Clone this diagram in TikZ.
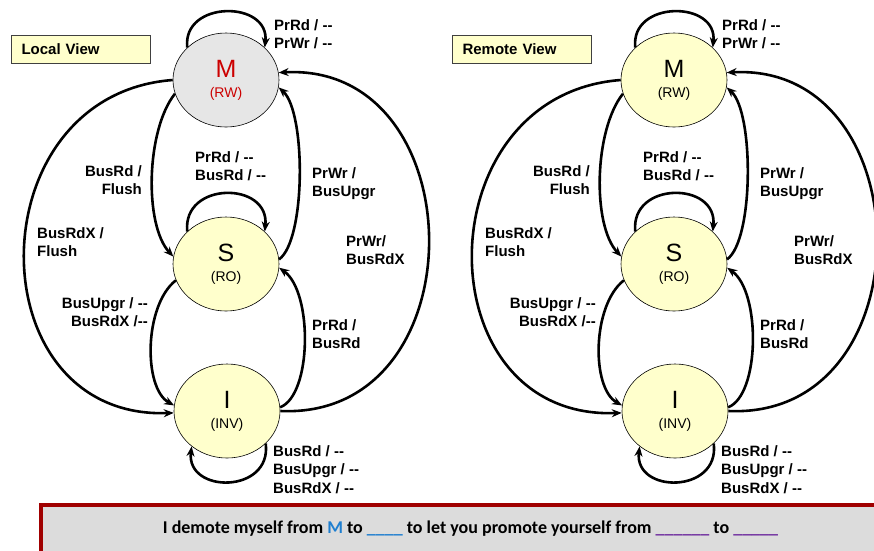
\documentclass[tikz,border=0pt]{standalone}
\usepackage{fontspec}
\setmainfont{Liberation Sans}
\newfontfamily\notefont{Carlito}
\usetikzlibrary{shapes.geometric,arrows.meta}

\definecolor{statefill}{HTML}{FFFFCC}
\definecolor{modfill}{HTML}{E6E6E6}
\definecolor{modred}{HTML}{CC0000}
\definecolor{boxred}{HTML}{A00000}
\definecolor{boxgray}{HTML}{DCDCDC}
\definecolor{hlblue}{HTML}{1F7FD0}
\definecolor{hlpurple}{HTML}{7030A0}

\tikzset{
  state/.style={ellipse, draw=black, line width=0.6pt, minimum width=106pt,
    minimum height=94pt, inner sep=0pt, align=center,
    font=\fontsize{14}{20}\selectfont},
  trans/.style={line width=2.6pt, -{Stealth[length=10pt,width=8pt]}},
  lbl/.style={font=\bfseries\fontsize{15}{18.5}\selectfont, inner sep=0pt,
    align=left, anchor=north west},
  lblr/.style={lbl, align=right, anchor=north east},
  viewtitle/.style={draw=black!75, fill=statefill, line width=0.7pt,
    minimum width=139pt, minimum height=28pt, inner sep=0pt, text width=119pt,
    font=\bfseries\fontsize{15}{18}\selectfont, align=left},
  notebox/.style={draw=boxred, fill=boxgray, line width=3.5pt},
  notetext/.style={font=\notefont\bfseries\fontsize{18}{22}\selectfont, inner sep=0pt}
}

% two separate hyphens, kept apart from the en-dash ligature
\newcommand\nop{-{}-}

% state label: large letter over the access mode
\newcommand\stname[2]{{\fontsize{25}{25}\selectfont #1}\\{#2}}

% one MSI state machine: #1 name prefix, #2 fill of M, #3 text colour of M,
% #4 title, #5 x of the title box
\newcommand\cohview[5]{%
  \node[viewtitle] (#1title) at (#5,49) {#4};
  \node[state, fill=#2, text=#3] (#1M) at (226,80) {\stname{M}{(RW)}};
  \node[state, fill=statefill] (#1S) at (226,264) {\stname{S}{(RO)}};
  \node[state, fill=statefill] (#1I) at (227,411) {\stname{I}{(INV)}};
  % self loops
  \draw[trans] (#1M.140) .. controls (182,0) and (270,0) .. (#1M.40);
  \draw[trans] (#1S.140) .. controls (182,181) and (270,181) .. (#1S.40);
  \draw[trans] (#1I.-40) .. controls (272,494) and (186,494) .. (#1I.-135);
  % transitions between states
  \draw[trans] (#1M.195) .. controls (146,130) and (144,225) .. (#1S.172);
  \draw[trans] (#1M.west) .. controls (-25,95) and (-25,420) .. (#1I.182);
  \draw[trans] (#1S.5) .. controls (306,240) and (306,112) .. (#1M.352);
  \draw[trans] (#1I.east) .. controls (480,420) and (476,62) .. (#1M.8);
  \draw[trans] (#1S.198) .. controls (144,305) and (143,388) .. (#1I.174);
  \draw[trans] (#1I.4) .. controls (312,395) and (313,292) .. (#1S.356);
  % transition labels
  \node[lbl]  (#1lm)   at (274,19)  {PrRd / \nop\\PrWr / \nop};
  \node[lbl]  (#1ls)   at (195,151) {PrRd / \nop\\BusRd / \nop};
  \node[lblr] (#1lms)  at (142,165) {BusRd /\\Flush};
  \node[lbl]  (#1lsm)  at (312,167) {PrWr /\\BusUpgr};
  \node[lbl]  (#1lmi)  at (37,227)  {BusRdX /\\Flush};
  \node[lbl]  (#1lim)  at (346,235) {PrWr/\\BusRdX};
  \node[lblr] (#1lsi)  at (148,297) {BusUpgr / \nop\\BusRdX /\nop};
  \node[lbl]  (#1lis)  at (312,319) {PrRd /\\BusRd};
  \node[lbl]  (#1li)   at (273,445) {BusRd / \nop\\BusUpgr / \nop\\BusRdX / \nop};
}

\begin{document}
\begin{tikzpicture}[x=1pt,y=-1pt]
  \useasboundingbox (0,0) rectangle (874,550);
  \clip (0,0) rectangle (874,550);

  \begin{scope}
    \cohview{L}{modfill}{modred}{Local View}{81}
  \end{scope}
  \begin{scope}[xshift=448pt]
    \cohview{R}{statefill}{black}{Remote View}{74}
  \end{scope}

  % question strip along the bottom
  \draw[notebox] (41,505) rectangle (900,575);
  \node[notetext] (note) at (470.5,529) {I demote myself from
    \textcolor{hlblue}{M} to \textcolor{hlblue}{\_\_\_\_} to let you promote
    yourself from \textcolor{hlpurple}{\_\_\_\_\_\_} to
    \textcolor{hlpurple}{\_\_\_\_\_}};
\end{tikzpicture}
\end{document}
